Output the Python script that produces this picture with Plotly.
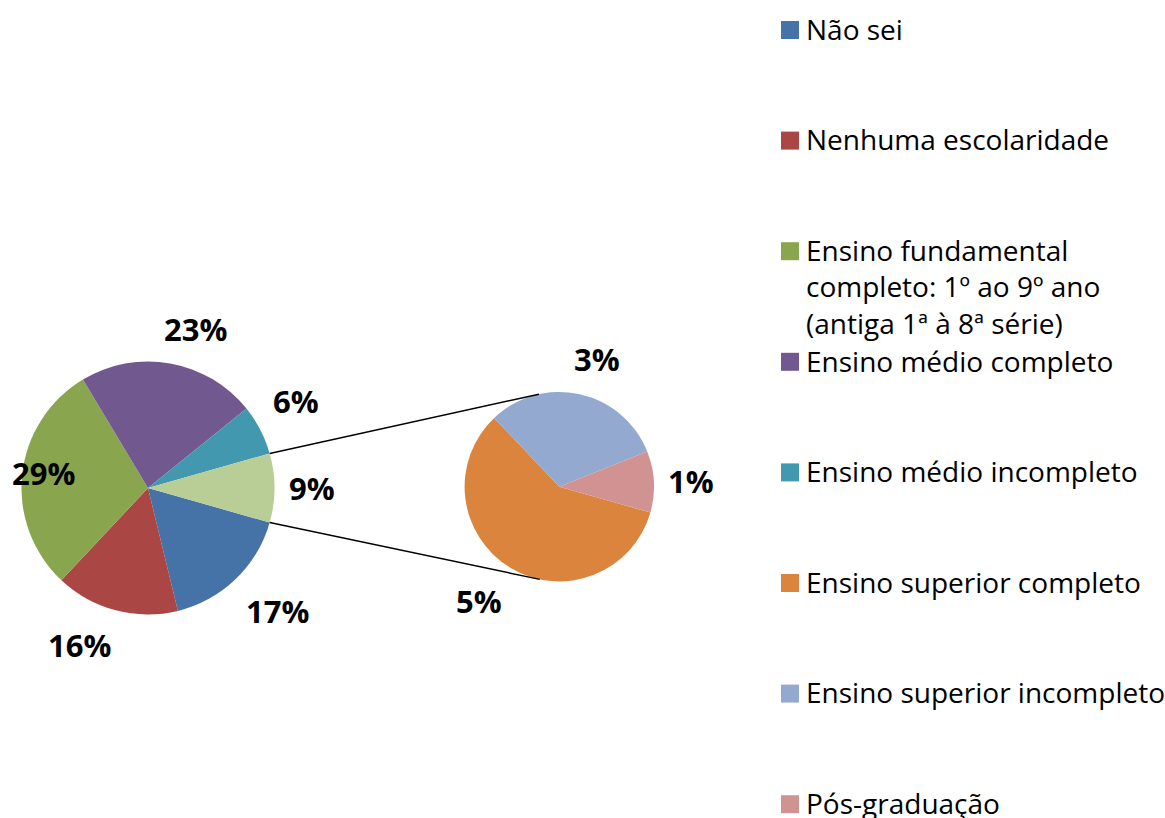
import math
import plotly.graph_objects as go

# Dados (percentuais)
rotulos_principal = ["Não sei", "Nenhuma escolaridade",
                     "Ensino fundamental completo: 1º ao 9º ano (antiga 1ª à 8ª série)",
                     "Ensino médio completo", "Ensino médio incompleto", "Outros"]
rotulos_secundario = ["Ensino superior completo", "Ensino superior incompleto", "Pós-graduação"]
valores_secundario = [5.15, 2.73, 0.92]
valores_principal = [16.8, 15.8, 29.4, 22.8, 6.4, sum(valores_secundario)]

cores_principal = ["#4572A7", "#AA4643", "#89A54E", "#71588F", "#4198AF", "#B9CD96"]
cores_secundario = ["#DB843D", "#93A9CF", "#D19392"]

legenda_rotulos = ["Não sei", "Nenhuma escolaridade",
                   "Ensino fundamental<br>completo: 1º ao 9º ano<br>(antiga 1ª à 8ª série)",
                   "Ensino médio completo", "Ensino médio incompleto",
                   "Ensino superior completo", "Ensino superior incompleto", "Pós-graduação"]
legenda_cores = cores_principal[:5] + cores_secundario

W, H = 1165, 818
FONTE = "Open Sans"
total = sum(valores_principal)

# geometria (pixels)
c1x, c1y, r1 = 148, 488, 126.5
c2x, c2y, r2 = 559.3, 486.7, 94.7


def paper(x, y):
    return x / W, 1 - y / H


def dominio(cx, cy, r):
    x0, y1 = paper(cx - r, cy - r)
    x1, y0 = paper(cx + r, cy + r)
    return dict(x=[x0, x1], y=[y0, y1])


# a fatia "Outros" fica centrada às 3 horas; a segunda pizza usa o mesmo início
ang_outros = valores_principal[-1] / total * 360
inicio = -ang_outros / 2

fig = go.Figure()
fig.add_trace(go.Pie(labels=rotulos_principal, values=valores_principal,
                     marker=dict(colors=cores_principal, line=dict(width=0)),
                     sort=False, direction="clockwise", rotation=90 - inicio,
                     textinfo="none", hoverinfo="label+percent",
                     domain=dominio(c1x, c1y, r1), showlegend=False))
fig.add_trace(go.Pie(labels=rotulos_secundario, values=valores_secundario,
                     marker=dict(colors=cores_secundario, line=dict(width=0)),
                     sort=False, direction="clockwise", rotation=90 - inicio,
                     textinfo="none", hoverinfo="label",
                     domain=dominio(c2x, c2y, r2), showlegend=False))

anots = []
shapes = []
fs_rot = 31


def rotulo(cx, cy, r, meio, texto):
    a = math.radians(meio)
    c, s = math.cos(a), math.sin(a)
    px = cx + (r + 12) * c
    py = cy - (r + 12) * s
    xa = "left" if c > 0.15 else "right" if c < -0.15 else "center"
    ya = "bottom" if s > 0.15 else "top" if s < -0.15 else "middle"
    larg = len(texto) * 0.62 * fs_rot
    if xa == "right" and px - larg < 10:
        xa, px = "left", 10
    if xa == "left" and abs(c) < 0.3:
        px -= 10  # rótulos perto do topo/base ficam um pouco mais centrados
    x, y = paper(px, py)
    anots.append(dict(x=x, y=y, xref="paper", yref="paper", text="<b>" + texto + "</b>",
                      showarrow=False, xanchor=xa, yanchor=ya,
                      font=dict(family=FONTE, size=fs_rot, color="black")))


# rótulos da pizza principal
acum = 0
for v in valores_principal:
    a0 = inicio - acum / total * 360
    a1 = a0 - v / total * 360
    rotulo(c1x, c1y, r1, (a0 + a1) / 2, f"{v / total:.0%}")
    acum += v

# rótulos da pizza secundária (percentual do total)
soma2 = sum(valores_secundario)
acum = 0
for v in valores_secundario:
    a0 = inicio - acum / soma2 * 360
    a1 = a0 - v / soma2 * 360
    rotulo(c2x, c2y, r2, (a0 + a1) / 2, f"{v / total:.0%}")
    acum += v

# linhas de ligação (tangentes à pizza secundária)
for sinal in (1, -1):
    ang = math.radians(sinal * ang_outros / 2)
    p = (c1x + r1 * math.cos(ang), c1y - r1 * math.sin(ang))
    dx, dy = p[0] - c2x, -(p[1] - c2y)
    d = math.hypot(dx, dy)
    phi = math.atan2(dy, dx)
    alfa = math.acos(r2 / d)
    t = phi - sinal * alfa
    q = (c2x + r2 * math.cos(t), c2y - r2 * math.sin(t))
    x0, y0 = paper(*p)
    x1, y1 = paper(*q)
    shapes.append(dict(type="line", xref="paper", yref="paper", x0=x0, y0=y0, x1=x1, y1=y1,
                       line=dict(color="black", width=1.5)))

# legenda manual
fs_leg = 28
passo = 110.6
for i, (txt, cor) in enumerate(zip(legenda_rotulos, legenda_cores)):
    cy = 30 + i * passo
    x0, y0 = paper(781, cy + 9)
    x1, y1 = paper(799, cy - 9)
    shapes.append(dict(type="rect", xref="paper", yref="paper", x0=x0, y0=y0, x1=x1, y1=y1,
                       fillcolor=cor, line=dict(width=0)))
    tx, ty = paper(804, cy - 0.65 * fs_leg - 4)
    anots.append(dict(x=tx, y=ty, xref="paper", yref="paper", text=txt, showarrow=False,
                      xanchor="left", yanchor="top", align="left",
                      font=dict(family=FONTE, size=fs_leg, color="black")))

fig.update_layout(width=W, height=H, margin=dict(l=0, r=0, t=0, b=0),
                  paper_bgcolor="white", plot_bgcolor="white",
                  annotations=anots, shapes=shapes)

fig.write_html("out.html", config={"displayModeBar": False},
               post_script="document.body.style.margin='0';")
